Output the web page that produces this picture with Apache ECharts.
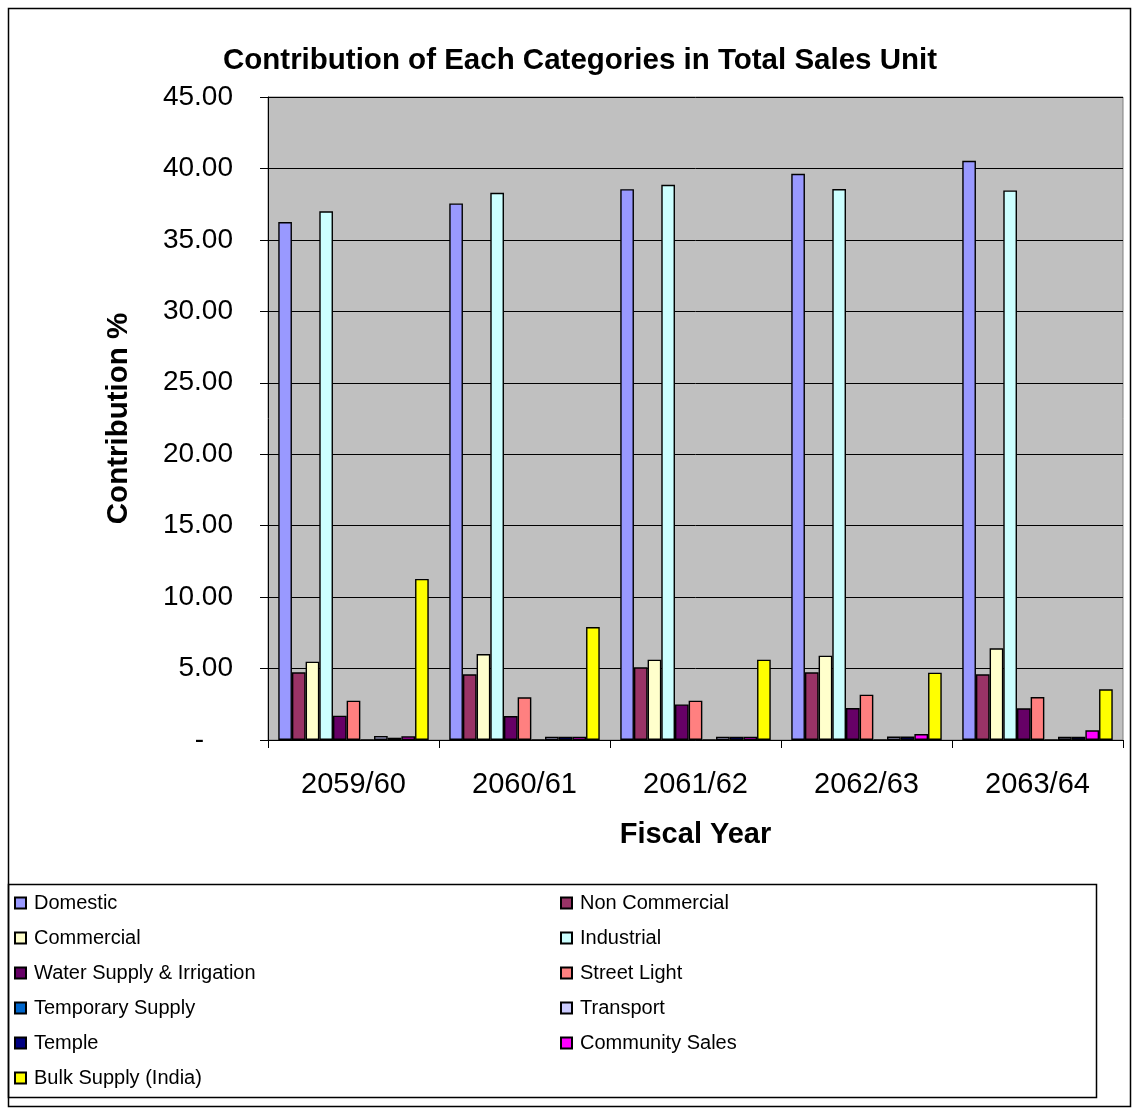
<!DOCTYPE html>
<html>
<head>
<meta charset="utf-8">
<script src="https://cdn.jsdelivr.net/npm/echarts@6/dist/echarts.min.js"></script>
<style>
html,body{margin:0;padding:0;background:#fff;}
#c{width:1133px;height:1109px;}
</style>
</head>
<body>
<div id="c"></div>
<script>
var years = ['2059/60', '2060/61', '2061/62', '2062/63', '2063/64'];
var yTicks = [0, 5, 10, 15, 20, 25, 30, 35, 40, 45];

var domestic      = [36.25, 37.55, 38.55, 39.63, 40.54];
var nonCommercial = [4.74, 4.60, 5.09, 4.74, 4.60];
var commercial    = [5.48, 6.02, 5.62, 5.90, 6.42];
var industrial    = [37.00, 38.30, 38.86, 38.56, 38.46];
var waterSupply   = [1.70, 1.68, 2.49, 2.24, 2.22];
var streetLight   = [2.75, 2.99, 2.75, 3.17, 3.01];
var temporary     = [0.02, 0.02, 0.02, 0.02, 0.02];
var transport     = [0.28, 0.23, 0.23, 0.24, 0.22];
var temple        = [0.16, 0.23, 0.23, 0.24, 0.22];
var community     = [0.26, 0.23, 0.23, 0.42, 0.68];
var bulkSupply    = [11.27, 7.90, 5.62, 4.71, 3.55];

var seriesNames = ['Domestic', 'Non Commercial', 'Commercial', 'Industrial', 'Water Supply & Irrigation',
  'Street Light', 'Temporary Supply', 'Transport', 'Temple', 'Community Sales', 'Bulk Supply (India)'];
var seriesData = [domestic, nonCommercial, commercial, industrial, waterSupply, streetLight,
  temporary, transport, temple, community, bulkSupply];
var colors = ['#9999FF', '#993366', '#FFFFCC', '#CCFFFF', '#660066', '#FF8080',
  '#0066CC', '#CCCCFF', '#000080', '#FF00FF', '#FFFF00'];

var legendLeft = ['Domestic', 'Commercial', 'Water Supply & Irrigation', 'Temporary Supply', 'Temple', 'Bulk Supply (India)'];
var legendRight = ['Non Commercial', 'Industrial', 'Street Light', 'Transport', 'Community Sales'];

var FONT = 'Arial, "Liberation Sans", sans-serif';

var series = seriesNames.map(function (n, i) {
  return {
    name: n,
    type: 'bar',
    data: seriesData[i],
    barGap: '0%',
    barCategoryGap: '12%',
    itemStyle: { color: colors[i], borderColor: '#000', borderWidth: 1.4 }
  };
});

var legendCommon = {
  orient: 'vertical',
  itemWidth: 11,
  itemHeight: 11,
  itemGap: 15,
  icon: 'rect',
  textStyle: { fontFamily: FONT, fontSize: 20, color: '#000', padding: [0, 0, 0, 3] },
  selectedMode: false
};

var chart = echarts.init(document.getElementById('c'), null, { renderer: 'canvas' });
chart.setOption({
  backgroundColor: '#fff',
  animation: false,
  title: {
    text: 'Contribution of Each Categories in Total Sales Unit',
    left: 575, top: 41, textAlign: 'center',
    textStyle: { fontFamily: FONT, fontSize: 29.5, fontWeight: 'bold', color: '#000' }
  },
  legend: [
    Object.assign({ data: legendLeft, left: 9, top: 888 }, legendCommon),
    Object.assign({ data: legendRight, left: 555, top: 888 }, legendCommon)
  ],
  grid: {
    left: 268, top: 97, right: 10, bottom: 369,
    show: true, backgroundColor: '#C0C0C0', borderColor: '#808080', borderWidth: 1
  },
  xAxis: {
    type: 'category',
    data: years,
    name: 'Fiscal Year',
    nameLocation: 'middle',
    nameGap: 80,
    nameTextStyle: { fontFamily: FONT, fontSize: 29, fontWeight: 'bold', color: '#000' },
    axisLine: { lineStyle: { color: '#000', width: 1 } },
    axisTick: { show: true, length: 8, lineStyle: { color: '#000' } },
    axisLabel: { fontFamily: FONT, fontSize: 29, color: '#000', margin: 30 }
  },
  yAxis: {
    type: 'value',
    min: yTicks[0], max: yTicks[yTicks.length - 1], interval: 5,
    name: 'Contribution %',
    nameLocation: 'middle',
    nameGap: 134,
    nameTextStyle: { fontFamily: FONT, fontSize: 29.5, fontWeight: 'bold', color: '#000' },
    axisLine: { show: true, lineStyle: { color: '#000', width: 1 } },
    axisTick: { show: true, length: 8, lineStyle: { color: '#000' } },
    splitLine: { show: true, lineStyle: { color: '#000', width: 1 } },
    axisLabel: {
      fontFamily: FONT, fontSize: 28, color: '#000', margin: 35,
      formatter: function (v) { return v === 0 ? '{d|-}' : v.toFixed(2); },
      rich: { d: { fontFamily: FONT, fontSize: 28, color: '#000', padding: [0, 29, 0, 0] } }
    }
  },
  graphic: [
    { type: 'rect', shape: { x: 8.5, y: 8.5, width: 1122, height: 1098 },
      style: { fill: null, stroke: '#000', lineWidth: 1.5 }, silent: true, z: 100 },
    { type: 'rect', shape: { x: 8.5, y: 884.5, width: 1088, height: 213 },
      style: { fill: null, stroke: '#000', lineWidth: 1.5 }, silent: true, z: 100 }
  ],
  series: series
});
</script>
</body>
</html>
